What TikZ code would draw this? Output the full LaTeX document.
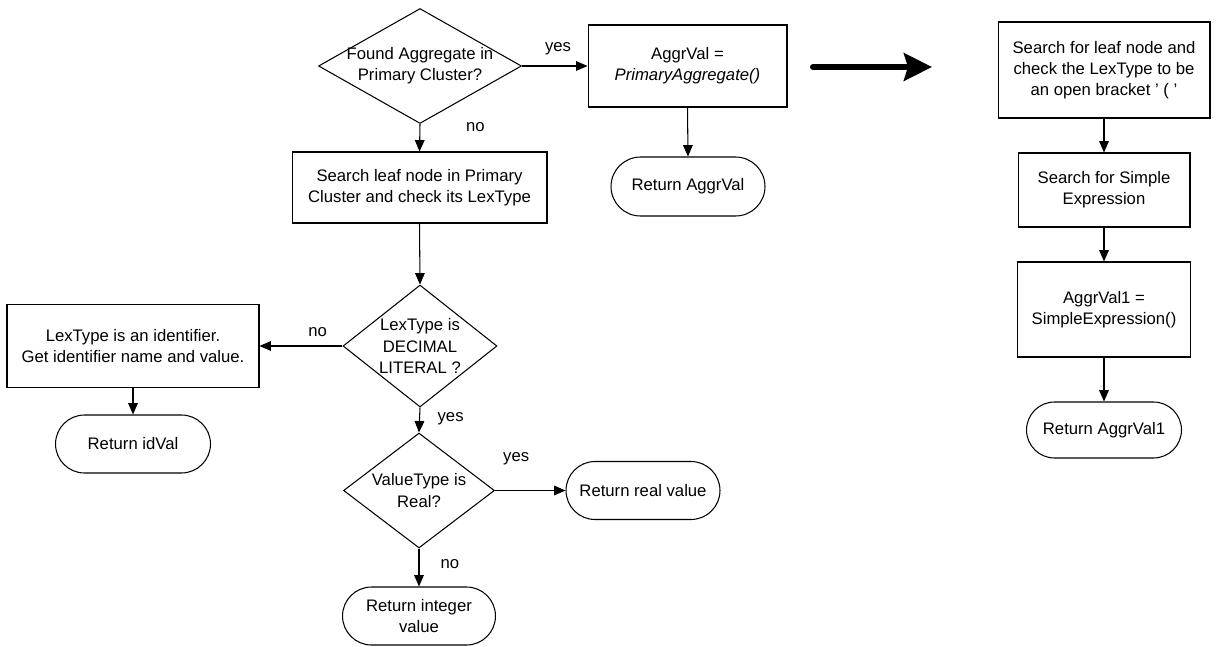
\documentclass[tikz,border=0pt]{standalone}
\usepackage{fontspec}
\setmainfont{Liberation Sans}
\usetikzlibrary{shapes.geometric,shapes.misc,arrows.meta}
\begin{document}
\begin{tikzpicture}[x=0.02cm,y=-0.02cm,
  every node/.style={font=\fontsize{9.5}{12}\selectfont},
  procbox/.style={draw,rectangle,inner sep=0pt,align=center,line width=0.6pt},
  decision/.style={draw,diamond,inner sep=0pt,line width=0.6pt},
  terminal/.style={draw,rounded rectangle,inner sep=0pt,align=center,line width=0.6pt},
  dtext/.style={align=center,inner sep=0pt},
  lbl/.style={inner sep=0pt},
  flow/.style={-{Triangle[length=6.5pt,width=5.5pt]},line width=0.6pt},
  bigarrow/.style={-{Stealth[length=0.56cm,width=0.55cm,inset=0.08cm]},line width=3.4pt,line cap=round}]
\useasboundingbox (0,0) rectangle (1217,646);

% left / middle part
\node[decision,minimum width=4.06cm,minimum height=2.3cm] (d1) at (420,66) {};
\node[dtext] at (d1.center) {Found Aggregate in\\Primary Cluster?};
\node[procbox,minimum width=3.98cm,minimum height=1.64cm] (aggr) at (687.5,66) {AggrVal =\\\textit{PrimaryAggregate()}};
\node[terminal,minimum width=3.08cm,minimum height=1.18cm] (retA) at (688,186.5) {Return AggrVal};
\node[procbox,minimum width=5.1cm,minimum height=1.42cm] (search) at (419.5,187.5) {Search leaf node in Primary\\Cluster and check its LexType};
\node[decision,minimum width=3.08cm,minimum height=2.44cm] (d2) at (420,346) {};
\node[dtext] at (d2.center) {LexType is\\DECIMAL\\LITERAL ?};
\node[procbox,minimum width=5.04cm,minimum height=1.66cm] (ident) at (133,346) {LexType is an identifier.\\Get identifier name and value.};
\node[terminal,minimum width=3.1cm,minimum height=1.16cm] (retId) at (133,444) {Return idVal};
\node[decision,minimum width=3.02cm,minimum height=2.3cm] (d3) at (419,490.5) {};
\node[dtext] at (d3.center) {ValueType is\\Real?};
\node[terminal,minimum width=3.08cm,minimum height=1.16cm] (retReal) at (643,490.5) {Return real value};
\node[terminal,minimum width=3.06cm,minimum height=1.16cm] (retInt) at (419,616) {Return integer\\value};

% right part
\node[procbox,minimum width=4.24cm,minimum height=1.92cm] (r1) at (1104,70) {Search for leaf node and\\check the LexType to be\\an open bracket ' ( '};
\node[procbox,minimum width=3.44cm,minimum height=1.48cm] (r2) at (1104,190) {Search for Simple\\Expression};
\node[procbox,minimum width=3.46cm,minimum height=1.9cm] (r3) at (1104,309.5) {AggrVal1 =\\SimpleExpression()};
\node[terminal,minimum width=3.1cm,minimum height=1.12cm] (r4) at (1104,430) {Return AggrVal1};

% big arrow
\coordinate (ba1) at (813,67);
\coordinate (ba2) at (932,67);
\draw[bigarrow] (ba1) -- (ba2);

% connectors
\draw[flow] (d1.east) -- (aggr.west) node[lbl,pos=0.55,above=6pt] {yes};
\draw[flow] (aggr.south) -- (retA.north);
\draw[flow] (d1.south) -- (search.north) node[lbl,pos=0.1,right=26pt] {no};
\draw[flow] (search.south) -- (d2.north);
\draw[flow] (d2.west) -- (ident.east) node[lbl,pos=0.3,above=5pt] {no};
\draw[flow] (ident.south) -- (retId.north);
\draw[flow] (d2.south) -- (d3.north) node[lbl,pos=0.45,right=10pt] {yes};
\draw[flow] (d3.east) -- (retReal.west) node[lbl,pos=0.3,above=14pt] {yes};
\draw[flow] (d3.south) -- (retInt.north) node[lbl,pos=0.4,right=12pt] {no};
\draw[flow] (r1.south) -- (r2.north);
\draw[flow] (r2.south) -- (r3.north);
\draw[flow] (r3.south) -- (r4.north);
\end{tikzpicture}
\end{document}
